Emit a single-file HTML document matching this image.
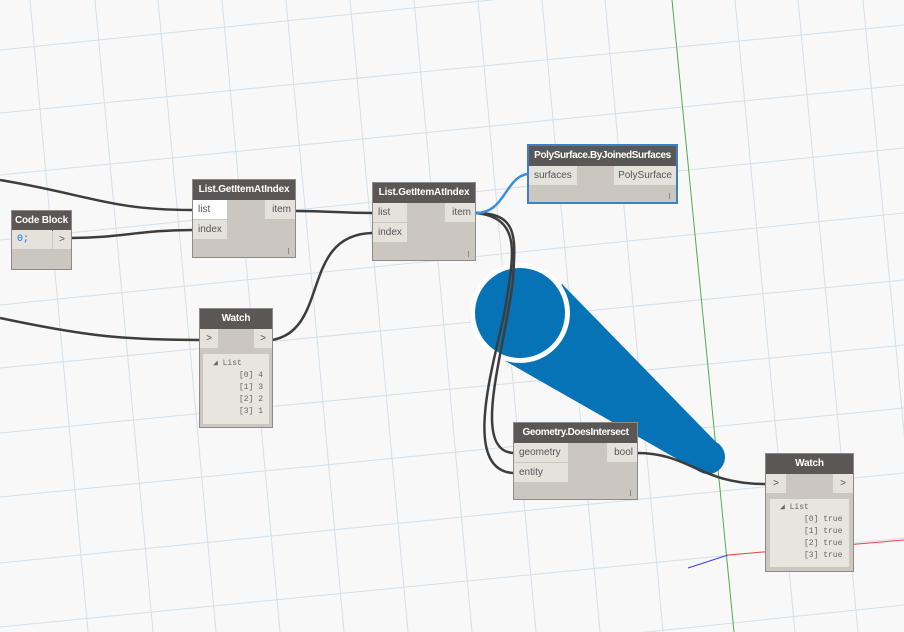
<!DOCTYPE html>
<html><head><style>
html,body{margin:0;width:904px;height:632px;overflow:hidden}
body{background:#f8f8f8;font-family:"Liberation Sans",sans-serif;position:relative}
svg{position:absolute;left:0;top:0}
.n{position:absolute;background:#cbc7c0;border:1px solid #8e8a86;box-sizing:border-box}
.h{background:#5b5756;color:#fff;font-weight:bold;font-size:10px;letter-spacing:-0.2px;height:20px;line-height:20px;text-align:center;white-space:nowrap;overflow:hidden}
.p{position:absolute;font-size:10px;color:#555;height:19px;line-height:19px;padding-left:5px;box-sizing:border-box;background:#e5e2dc}
.o{position:absolute;font-size:10px;color:#555;height:19px;line-height:19px;padding-right:4px;text-align:right;box-sizing:border-box;background:#e5e2dc}
.t{position:absolute;right:6px;bottom:3px;width:1px;height:6px;background:#888}
.w{position:absolute;background:#e8e5df;font-family:"Liberation Mono",monospace;font-size:8px;color:#666;line-height:12px}
</style></head><body>
<svg width="904" height="632">
<g stroke="#d3e0ea" stroke-width="1" fill="none">
<line x1="0" y1="50" x2="904" y2="-42"/>
<line x1="0" y1="113" x2="904" y2="25"/>
<line x1="0" y1="175" x2="904" y2="85"/>
<line x1="0" y1="240" x2="904" y2="148"/>
<line x1="0" y1="305" x2="904" y2="213"/>
<line x1="0" y1="368" x2="904" y2="280"/>
<line x1="0" y1="433" x2="904" y2="345"/>
<line x1="0" y1="497" x2="904" y2="408"/>
<line x1="0" y1="563" x2="904" y2="473"/>
<line x1="0" y1="627" x2="904" y2="538"/>
<line x1="0" y1="700" x2="904" y2="605"/>
<line x1="30" y1="0" x2="88" y2="632"/>
<line x1="95" y1="0" x2="153" y2="632"/>
<line x1="158" y1="0" x2="216" y2="632"/>
<line x1="222" y1="0" x2="280" y2="632"/>
<line x1="286" y1="0" x2="344" y2="632"/>
<line x1="350" y1="0" x2="408" y2="632"/>
<line x1="414" y1="0" x2="472" y2="632"/>
<line x1="478" y1="0" x2="536" y2="632"/>
<line x1="542" y1="0" x2="600" y2="632"/>
<line x1="605" y1="0" x2="663" y2="632"/>
<line x1="735" y1="0" x2="795" y2="632"/>
<line x1="798" y1="0" x2="858" y2="632"/>
<line x1="863" y1="0" x2="923" y2="632"/>
</g>
<line x1="672" y1="0" x2="734" y2="632" stroke="#4caf50" stroke-width="1"/>
<line x1="728" y1="555" x2="904" y2="540" stroke="#e84545" stroke-width="1"/>
<line x1="728" y1="555" x2="688" y2="568" stroke="#3b3bff" stroke-width="1"/>
<path d="M562 284 L716 442 A15 15 0 0 1 700 472 L500 358 Z" fill="#0673b6"/>
<circle cx="520" cy="313" r="50" fill="#fff"/>
<circle cx="520" cy="313" r="45" fill="#0673b6"/>
<g stroke="#3d3d3d" stroke-width="2.5" fill="none">
<path d="M0 180 C90 195 110 210 192 210"/>
<path d="M71 238 C120 238 140 230 192 230"/>
<path d="M0 318 C80 335 120 340 199 340"/>
<path d="M296 211 C330 211 340 213 372 213"/>
<path d="M272 340 C330 330 300 235 372 233"/>
<path d="M476 213 C520 213 515 240 513 280 C505 350 470 450 513 453"/>
<path d="M476 213 C525 218 512 260 505 310 C495 360 460 470 513 473"/>
<path d="M637 453 C690 453 700 484 765 484"/>
</g>
<path d="M476 213 C505 213 505 178 527 174" stroke="#3b8ede" stroke-width="2.5" fill="none"/>
</svg>

<div class="n" style="left:11px;top:210px;width:61px;height:60px">
<div class="h">Code Block</div>
<div class="p" style="left:0;top:19px;width:40px;font-family:'Liberation Mono',monospace;color:#1e73d0">0;</div>
<div class="o" style="right:0;top:19px;width:18px;text-align:center;padding:0">&gt;</div>
</div>

<div class="n" style="left:192px;top:179px;width:104px;height:79px">
<div class="h">List.GetItemAtIndex</div>
<div class="p" style="left:0;top:20px;width:34px;background:#fff">list</div>
<div class="p" style="left:0;top:40px;width:34px">index</div>
<div class="o" style="right:0;top:20px;width:30px">item</div>
<div class="t"></div>
</div>

<div class="n" style="left:372px;top:182px;width:104px;height:79px">
<div class="h">List.GetItemAtIndex</div>
<div class="p" style="left:0;top:20px;width:34px">list</div>
<div class="p" style="left:0;top:40px;width:34px">index</div>
<div class="o" style="right:0;top:20px;width:30px">item</div>
<div class="t"></div>
</div>

<div class="n" style="left:527px;top:144px;width:151px;height:60px;border:2px solid #3d80c6">
<div class="h" style="letter-spacing:-0.4px">PolySurface.ByJoinedSurfaces</div>
<div class="p" style="left:0;top:20px;width:48px">surfaces</div>
<div class="o" style="right:0;top:20px;width:62px">PolySurface</div>
<div class="t"></div>
</div>

<div class="n" style="left:199px;top:308px;width:74px;height:120px">
<div class="h">Watch</div>
<div class="o" style="left:0;top:20px;width:18px;text-align:center;padding:0">&gt;</div>
<div class="o" style="right:0;top:20px;width:18px;text-align:center;padding:0">&gt;</div>
<div class="w" style="left:3px;top:45px;width:66px;height:70px">
<div style="padding:4px 0 0 10px">◢ List</div>
<div style="padding-left:36px">[0] 4<br>[1] 3<br>[2] 2<br>[3] 1</div>
</div>
</div>

<div class="n" style="left:513px;top:422px;width:125px;height:78px">
<div class="h" style="letter-spacing:-0.4px">Geometry.DoesIntersect</div>
<div class="p" style="left:0;top:20px;width:54px">geometry</div>
<div class="p" style="left:0;top:40px;width:54px">entity</div>
<div class="o" style="right:0;top:20px;width:30px">bool</div>
<div class="t"></div>
</div>

<div class="n" style="left:765px;top:453px;width:89px;height:119px">
<div class="h">Watch</div>
<div class="o" style="left:0;top:20px;width:20px;text-align:center;padding:0">&gt;</div>
<div class="o" style="right:0;top:20px;width:20px;text-align:center;padding:0">&gt;</div>
<div class="w" style="left:4px;top:45px;width:79px;height:68px">
<div style="padding:3px 0 0 10px">◢ List</div>
<div style="padding-left:34px">[0] true<br>[1] true<br>[2] true<br>[3] true</div>
</div>
</div>
</body></html>
